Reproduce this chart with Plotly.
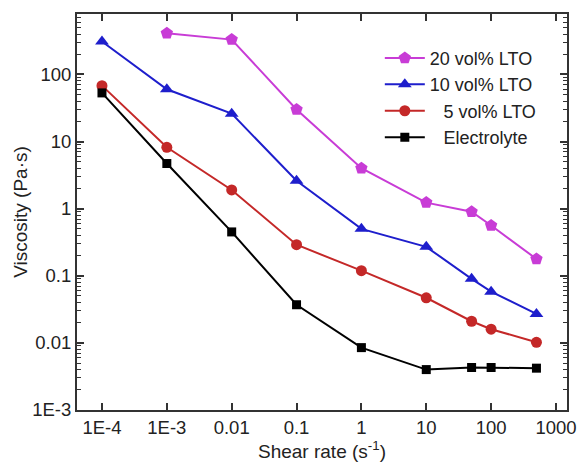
import plotly.graph_objects as go

shear = [1e-4, 1e-3, 0.01, 0.1, 1, 10, 50, 100, 500]
shear20 = [1e-3, 0.01, 0.1, 1, 10, 50, 100, 500]
visc20 = [410, 330, 30, 4.0, 1.23, 0.9, 0.56, 0.178]
visc10 = [310, 60, 26, 2.6, 0.5, 0.27, 0.09, 0.058, 0.027]
visc5 = [68, 8.2, 1.9, 0.29, 0.119, 0.047, 0.021, 0.016, 0.0102]
viscE = [53, 4.7, 0.45, 0.037, 0.0085, 0.004, 0.0043, 0.0043, 0.0042]

names = ["20 vol% LTO", "10 vol% LTO", "\u2007\u20095 vol% LTO", "\u2007\u2009Electrolyte"]
colors = ["#C83CD6", "#1E1ECC", "#C42828", "#000000"]
symbols = ["pentagon", "triangle-up", "circle", "square"]
sizes = [13, 12, 11, 9]

xtickvals = [1e-4, 1e-3, 0.01, 0.1, 1, 10, 100, 1000]
xticktext = ["1E-4", "1E-3", "0.01", "0.1", "1", "10", "100", "1000"]
ytickvals = [1e-3, 0.01, 0.1, 1, 10, 100]
yticktext = ["1E-3", "0.01", "0.1", "1", "10", "100"]
yminor = [m * 10 ** e for e in range(-3, 3) for m in range(2, 10)]

fig = go.Figure()
data = [(shear20, visc20), (shear, visc10), (shear, visc5), (shear, viscE)]
for (xs, ys), n, c, s, sz in zip(data, names, colors, symbols, sizes):
    fig.add_trace(go.Scatter(x=xs, y=ys, name=n, mode="lines+markers",
                             line=dict(color=c, width=2),
                             marker=dict(color=c, symbol=s, size=sz)))

font = "Liberation Sans, Arial, sans-serif"
fig.update_layout(
    width=578, height=463,
    margin=dict(l=77, r=11, t=14, b=53),
    paper_bgcolor="white", plot_bgcolor="white",
    font=dict(family=font, size=18.5, color="#222"),
    showlegend=True,
    legend=dict(x=0.618, y=0.935, xanchor="left", yanchor="top",
                bgcolor="rgba(0,0,0,0)", font=dict(size=18, color="#222"),
                itemwidth=40, tracegroupgap=0),
)
fig.update_xaxes(type="log", range=[-4.385, 3.17], automargin=False,
                 tickvals=xtickvals, ticktext=xticktext,
                 ticks="inside", ticklen=7, tickwidth=1.5, tickcolor="#333",
                 ticklabelstandoff=0,
                 showline=True, linecolor="#333", linewidth=2, mirror="ticks",
                 showgrid=False, zeroline=False,
                 title=dict(text="Shear rate (s<sup>-1</sup>)", standoff=0,
                            font=dict(size=19)))
fig.update_yaxes(type="log", range=[-3, 2.9], automargin=False,
                 tickvals=ytickvals, ticktext=yticktext,
                 ticks="inside", ticklen=7, tickwidth=1.5, tickcolor="#333",
                 minor=dict(tickvals=yminor, ticks="inside", ticklen=4,
                            tickwidth=1, tickcolor="#333", showgrid=False),
                 showline=True, linecolor="#333", linewidth=2, mirror="ticks",
                 showgrid=False, zeroline=False,
                 title=dict(text="Viscosity (Pa·s)", standoff=0,
                            font=dict(size=19)))

fig.write_html("out.html")
